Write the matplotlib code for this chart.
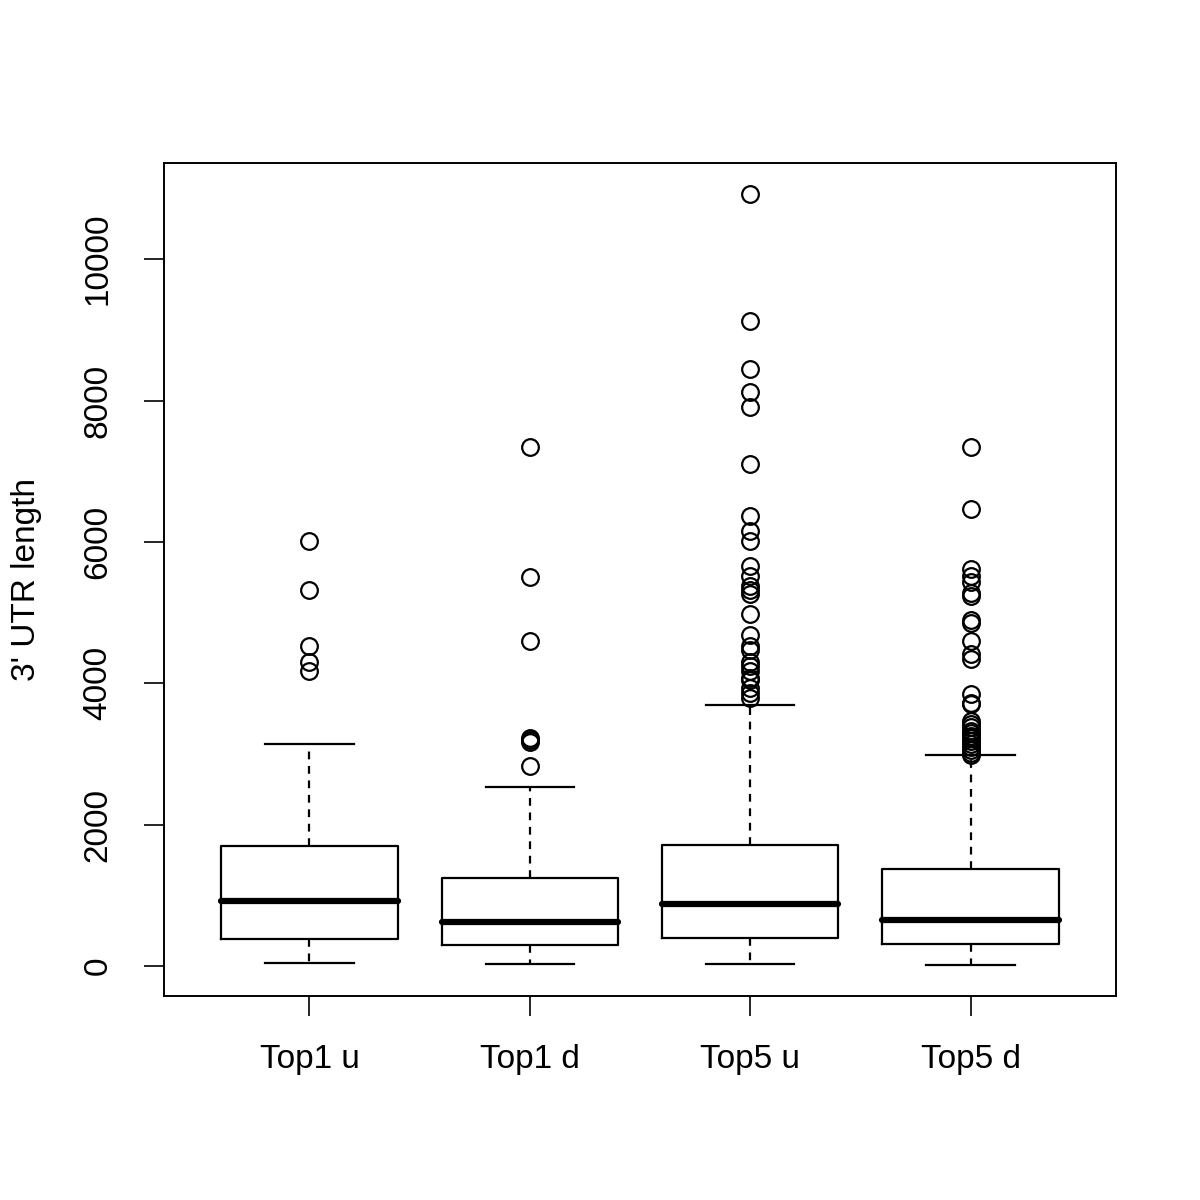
import matplotlib
matplotlib.use('Agg')
import matplotlib.pyplot as plt

# valores
labels = ['Top1 u', 'Top1 d', 'Top5 u', 'Top5 d']
whislo = [42, 28, 28, 14]
q1 = [382, 297, 396, 311]
med = [919, 622, 877, 650]
q3 = [1697, 1245, 1710, 1372]
whishi = [3140, 2532, 3690, 2985]
fliers = [
    [6011, 5318, 4526, 4300, 4172],
    [7340, 5500, 4597, 3230, 3200, 3170, 2829],
    [10919, 9123, 8444, 8119, 7907, 7100, 6365, 6153, 6011, 5658, 5520, 5380,
     5320, 5270, 4979, 4690, 4530, 4470, 4300, 4240, 4180, 4080, 4040, 3940,
     3860, 3790],
    [7340, 6464, 5620, 5520, 5430, 5280, 5230, 4900, 4860, 4600, 4420, 4350,
     3850, 3720, 3700, 3470, 3420, 3380, 3330, 3290, 3250, 3220, 3180, 3140,
     3100, 3060, 3020, 2990],
]
yticks = [0, 2000, 4000, 6000, 8000, 10000]

plt.rcParams['font.family'] = 'Liberation Sans'

stats = []
for i in range(len(labels)):
    stats.append({'label': labels[i], 'whislo': whislo[i], 'q1': q1[i],
                  'med': med[i], 'q3': q3[i], 'whishi': whishi[i],
                  'fliers': fliers[i]})

fig = plt.figure(figsize=(12, 12), dpi=100)
ax = fig.add_axes([0.1367, 0.17, 0.7933, 0.694])
ax.bxp(stats, positions=[1, 2, 3, 4], widths=0.8, capwidths=0.4,
       boxprops=dict(color='black', linewidth=1.6),
       whiskerprops=dict(color='black', linewidth=1.6, linestyle=(0, (3.5, 3))),
       capprops=dict(color='black', linewidth=1.6),
       medianprops=dict(color='black', linewidth=4.5, solid_capstyle='round'),
       flierprops=dict(marker='o', markerfacecolor='none', markeredgecolor='black',
                       markersize=12, markeredgewidth=1.6))

ax.set_xlim(0.34, 4.66)
ax.set_ylim(-424, 11358)
ax.set_yticks(yticks)
ax.set_yticklabels([str(v) for v in yticks])
ax.set_xticks([1, 2, 3, 4])
ax.set_xticklabels(labels)
ax.tick_params(axis='both', direction='out', length=14.4, width=1.2, labelsize=24)
ax.tick_params(axis='x', pad=20)
ax.tick_params(axis='y', pad=22, labelrotation=90)
for lab in ax.get_yticklabels():
    lab.set_va('center')
for s in ax.spines.values():
    s.set_linewidth(1.4)
ax.set_ylabel("3' UTR length", fontsize=24)
ax.yaxis.set_label_coords(-0.128, 0.5)

fig.savefig('out.png', dpi=100)
